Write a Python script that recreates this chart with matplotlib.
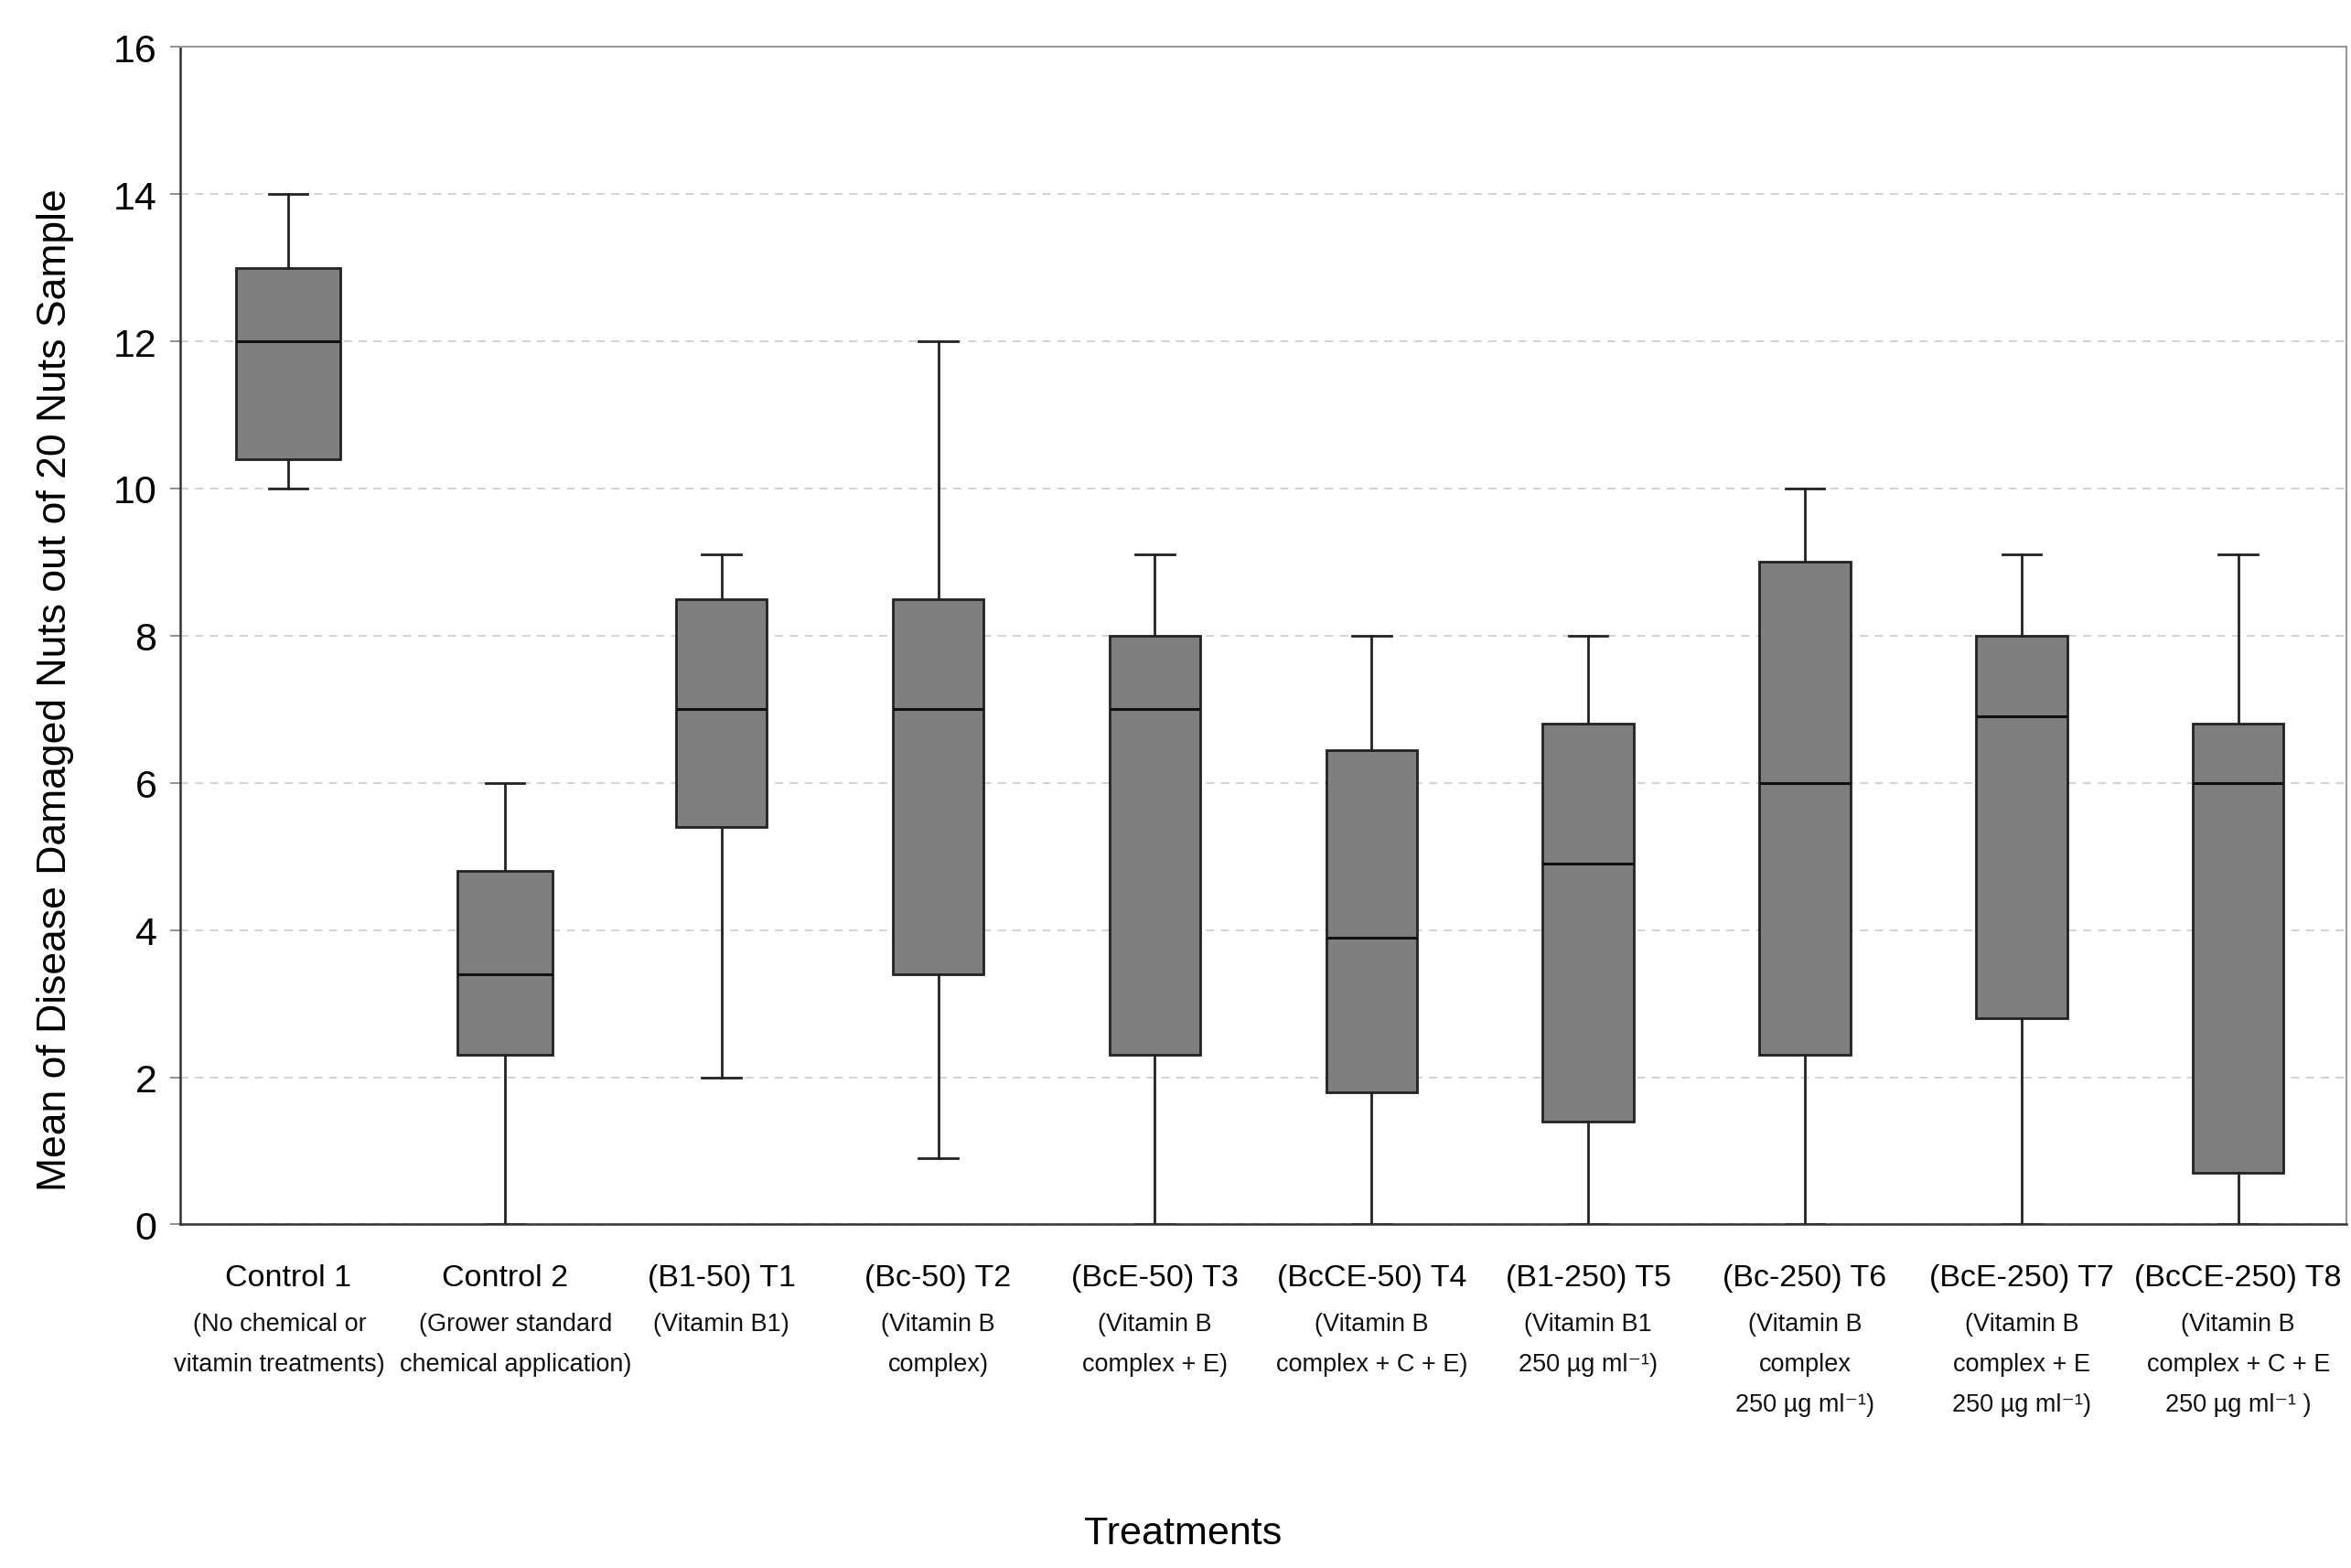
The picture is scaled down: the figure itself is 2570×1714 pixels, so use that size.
import matplotlib
matplotlib.use("Agg")
import matplotlib.pyplot as plt
from matplotlib import font_manager
from matplotlib.transforms import blended_transform_factory

names = ["Control 1", "Control 2", "(B1-50) T1", "(Bc-50) T2", "(BcE-50) T3",
         "(BcCE-50) T4", "(B1-250) T5", "(Bc-250) T6", "(BcE-250) T7", "(BcCE-250) T8"]
descriptions = [
    "(No chemical or\nvitamin treatments)",
    "(Grower standard\nchemical application)",
    "(Vitamin B1)",
    "(Vitamin B\ncomplex)",
    "(Vitamin B\ncomplex + E)",
    "(Vitamin B\ncomplex + C + E)",
    "(Vitamin B1\n250 µg ml⁻¹)",
    "(Vitamin B\ncomplex\n250 µg ml⁻¹)",
    "(Vitamin B\ncomplex + E\n250 µg ml⁻¹)",
    "(Vitamin B\ncomplex + C + E\n250 µg ml⁻¹ )",
]
whisker_low = [10.0, 0.0, 2.0, 0.9, 0.0, 0.0, 0.0, 0.0, 0.0, 0.0]
q1 = [10.4, 2.3, 5.4, 3.4, 2.3, 1.8, 1.4, 2.3, 2.8, 0.7]
median = [12.0, 3.4, 7.0, 7.0, 7.0, 3.9, 4.9, 6.0, 6.9, 6.0]
q3 = [13.0, 4.8, 8.5, 8.5, 8.0, 6.45, 6.8, 9.0, 8.0, 6.8]
whisker_high = [14.0, 6.0, 9.1, 12.0, 9.1, 8.0, 8.0, 10.0, 9.1, 9.1]
y_ticks = [0, 2, 4, 6, 8, 10, 12, 14, 16]

avail = {f.name for f in font_manager.fontManager.ttflist}
main_font = "Liberation Sans Narrow" if "Liberation Sans Narrow" in avail else "Liberation Sans"
fam = [main_font, "Liberation Sans", "DejaVu Sans"]
plt.rcParams["font.family"] = fam

fig = plt.figure(figsize=(25.7, 17.15), dpi=100)
ax = fig.add_axes([0.0765, 0.219, 0.9216, 0.7505])

stats = []
for i in range(len(names)):
    stats.append(dict(med=median[i], q1=q1[i], q3=q3[i], whislo=whisker_low[i],
                      whishi=whisker_high[i], fliers=[], label=names[i]))

positions = list(range(len(names)))
box_widths = [0.48, 0.44] + [0.42] * (len(names) - 2)
ax.bxp(stats, positions=positions, widths=box_widths, patch_artist=True, showfliers=False,
       boxprops=dict(facecolor="#7f7f7f", edgecolor="#222222", linewidth=2.0),
       medianprops=dict(color="#111111", linewidth=2.2),
       whiskerprops=dict(color="#222222", linewidth=2.0),
       capprops=dict(color="#222222", linewidth=2.0),
       capwidths=0.18)

ax.set_xlim(-0.5, len(names) - 0.5)
ax.set_ylim(0, 16)
ax.set_yticks(y_ticks)
ax.set_yticklabels([str(t) for t in y_ticks], fontsize=31)
ax.yaxis.grid(True, linestyle=(0, (5, 4)), color="#cfcfcf", linewidth=1.3)
ax.set_axisbelow(True)
ax.tick_params(axis="y", length=8, width=1.3, color="#888888", pad=10)

ax.set_xticks(positions)
ax.set_xticklabels(names, fontsize=24.5)
ax.tick_params(axis="x", length=0, pad=31)

# small horizontal nudges of the description blocks (layout only)
desc_nudge = [-0.04, 0.05, 0, 0, 0, 0, 0, 0, 0, 0]
trans = blended_transform_factory(ax.transData, ax.transAxes)
for i, d in enumerate(descriptions):
    ax.text(positions[i] + desc_nudge[i], -0.074, d, transform=trans, ha="center", va="top",
            fontsize=19.5, linespacing=1.9, color="#111111")

for side in ["top", "right"]:
    ax.spines[side].set_color("#999999")
    ax.spines[side].set_linewidth(1.5)
for side in ["left", "bottom"]:
    ax.spines[side].set_color("#333333")
    ax.spines[side].set_linewidth(1.8)

ax.set_ylabel("Mean of Disease Damaged Nuts out of 20 Nuts Sample", fontsize=32, labelpad=31)
ax.yaxis.label.set_y(0.455)
fig.text(0.503, 0.022, "Treatments", ha="center", va="center", fontsize=31)

fig.savefig("out.png", dpi=100)
